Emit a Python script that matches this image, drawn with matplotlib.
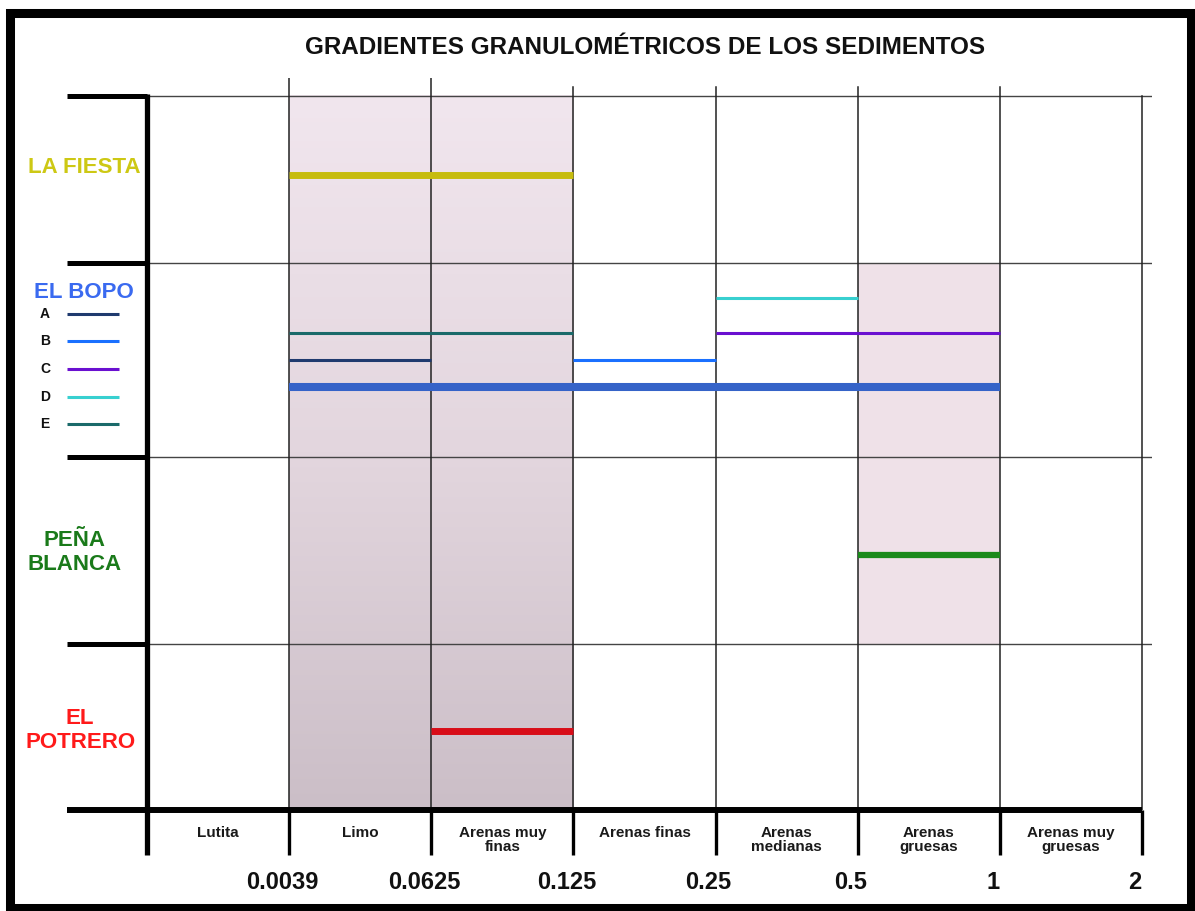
import numpy as np
import matplotlib
matplotlib.use("Agg")
import matplotlib.pyplot as plt
from matplotlib.patches import Rectangle
from matplotlib.colors import LinearSegmentedColormap

# ---------------- data ----------------
title = "GRADIENTES GRANULOMÉTRICOS DE LOS SEDIMENTOS"
classes = ["Lutita", "Limo", "Arenas muy\nfinas", "Arenas finas",
           "Arenas\nmedianas", "Arenas\ngruesas", "Arenas muy\ngruesas"]
size_labels = ["0.0039", "0.0625", "0.125", "0.25", "0.5", "1", "2"]

sites = ["LA FIESTA", "EL BOPO", "PEÑA\nBLANCA", "EL\nPOTRERO"]
site_colors = ["#cdc814", "#3a6af0", "#1a7a1a", "#ff1a1a"]
row_edges = [100, 76.6, 49.4, 23.2, 0]          # top -> bottom of each site band

bopo_sub = ["A", "B", "C", "D", "E"]
bopo_colors = ["#1f3a6e", "#1a70ff", "#6a10d0", "#38d0d0", "#1a6a6a"]

# segments: (start class edge, end class edge, level, colour, width)
seg_start = [1, 1, 1, 3, 4, 4, 1, 5, 2]
seg_end = [3, 3, 2, 4, 5, 6, 6, 6, 3]
seg_level = [88.9, 66.8, 63.0, 63.0, 71.7, 66.8, 59.2, 35.7, 11.1]
seg_color = ["#c6bc0e", "#1a6a6a", "#1f3a6e", "#1a70ff", "#38d0d0",
             "#6a10d0", "#3563c8", "#1a8a1a", "#d80c18"]
seg_width = [5.0, 2.2, 2.2, 2.2, 2.2, 2.2, 5.8, 4.5, 5.0]

# shaded classes
grad_span = (1, 3)       # Limo + Arenas muy finas, full height gradient
pink_span = (5, 6)       # Arenas gruesas, in El Bopo + Peña Blanca bands
pink_rows = (23.2, 76.6)

# ---------------- figure ----------------
W, H = 1195, 911
fig = plt.figure(figsize=(W / 100, H / 100), dpi=100)
fig.patch.set_facecolor("white")

x0, x1 = 147, 1152
y0, y1 = 810, 78
ax = fig.add_axes([x0 / W, 1 - y0 / H, (x1 - x0) / W, (y0 - y1) / H])
ax.set_xlim(0, 7.07)
ax.set_ylim(0, 102.5)
ax.axis("off")

# gradient shading
cmap = LinearSegmentedColormap.from_list("g", ["#cbbec7", "#e3d6de", "#f1e6ee"])
grad = np.linspace(0, 1, 256).reshape(-1, 1)
ax.imshow(grad, extent=[grad_span[0], grad_span[1], 0, 100], origin="lower",
          cmap=cmap, aspect="auto", zorder=0)
ax.add_patch(Rectangle((pink_span[0], pink_rows[0]), pink_span[1] - pink_span[0],
                       pink_rows[1] - pink_rows[0], facecolor="#efe1e8",
                       edgecolor="none", zorder=0))

# grid
for e in row_edges[:-1]:
    ax.plot([0, 7.07], [e, e], color="#444444", lw=1.0, zorder=1, solid_capstyle="butt")
for i in range(1, 7):
    ax.plot([i, i], [0, 102.5 if i < 3 else 101.3], color="#222222", lw=1.1, zorder=1)
ax.plot([7, 7], [0, 100], color="#222222", lw=1.1, zorder=1)

# segments
for s, e, lv, c, w in zip(seg_start, seg_end, seg_level, seg_color, seg_width):
    ax.plot([s, e], [lv, lv], color=c, lw=w, solid_capstyle="butt", zorder=3)

# thick frame lines
kw = dict(color="black", clip_on=False, solid_capstyle="butt", zorder=4)
ax.plot([0, 0], [-6.3, 100.3], lw=3.8, **kw)
ax.plot([-0.563, 7.0], [0, 0], lw=4.3, **kw)
for e in row_edges[:-1]:
    ax.plot([-0.563, 0], [e, e], lw=3.6, **kw)
for i in range(1, 8):
    ax.plot([i, i], [0, -6.3], lw=2.4, **kw)

# class labels and size labels
narrow = ["Liberation Sans Narrow", "Liberation Sans", "DejaVu Sans"]
for i, lab in enumerate(classes):
    ax.text(i + 0.5, -2.3, lab, ha="center", va="top", fontsize=11,
            fontweight="bold", family=narrow, color="#1a1a1a",
            linespacing=1.0, clip_on=False)
for i, lab in enumerate(size_labels):
    ax.text(i + 1 - 0.05, -10.2, lab, ha="center", va="center", fontsize=17,
            fontweight="bold", family=narrow, color="#111111", clip_on=False)

# site labels
site_x = [-0.443, -0.443, -0.507, -0.47]
site_y = [89.9, 72.4, 36.1, 11.1]
for name, c, sx, sy in zip(sites, site_colors, site_x, site_y):
    ax.text(sx, sy, name, ha="center", va="center", fontsize=16,
            fontweight="bold", family="Liberation Sans", color=c,
            linespacing=1.2, clip_on=False)

# El Bopo sub-legend
leg_y = [69.5, 65.7, 61.8, 57.8, 54.1]
for lab, c, ly in zip(bopo_sub, bopo_colors, leg_y):
    ax.text(-0.718, ly, lab, ha="center", va="center", fontsize=10,
            fontweight="bold", family=narrow, color="#111111", clip_on=False)
    ax.plot([-0.563, -0.197], [ly, ly], color=c, lw=2.2, clip_on=False,
            solid_capstyle="butt")

# title
fig.text(645 / W, 1 - 47 / H, title, ha="center", va="center", fontsize=17.5,
         fontweight="bold", family="Liberation Sans", color="#111111")

# outer frame
fig.patches.append(Rectangle((10 / W, 1 - 908 / H), (1191 - 10) / W, (908 - 13) / H,
                             transform=fig.transFigure, fill=False,
                             edgecolor="black", linewidth=6.5))

fig.savefig("out.png", dpi=100)
